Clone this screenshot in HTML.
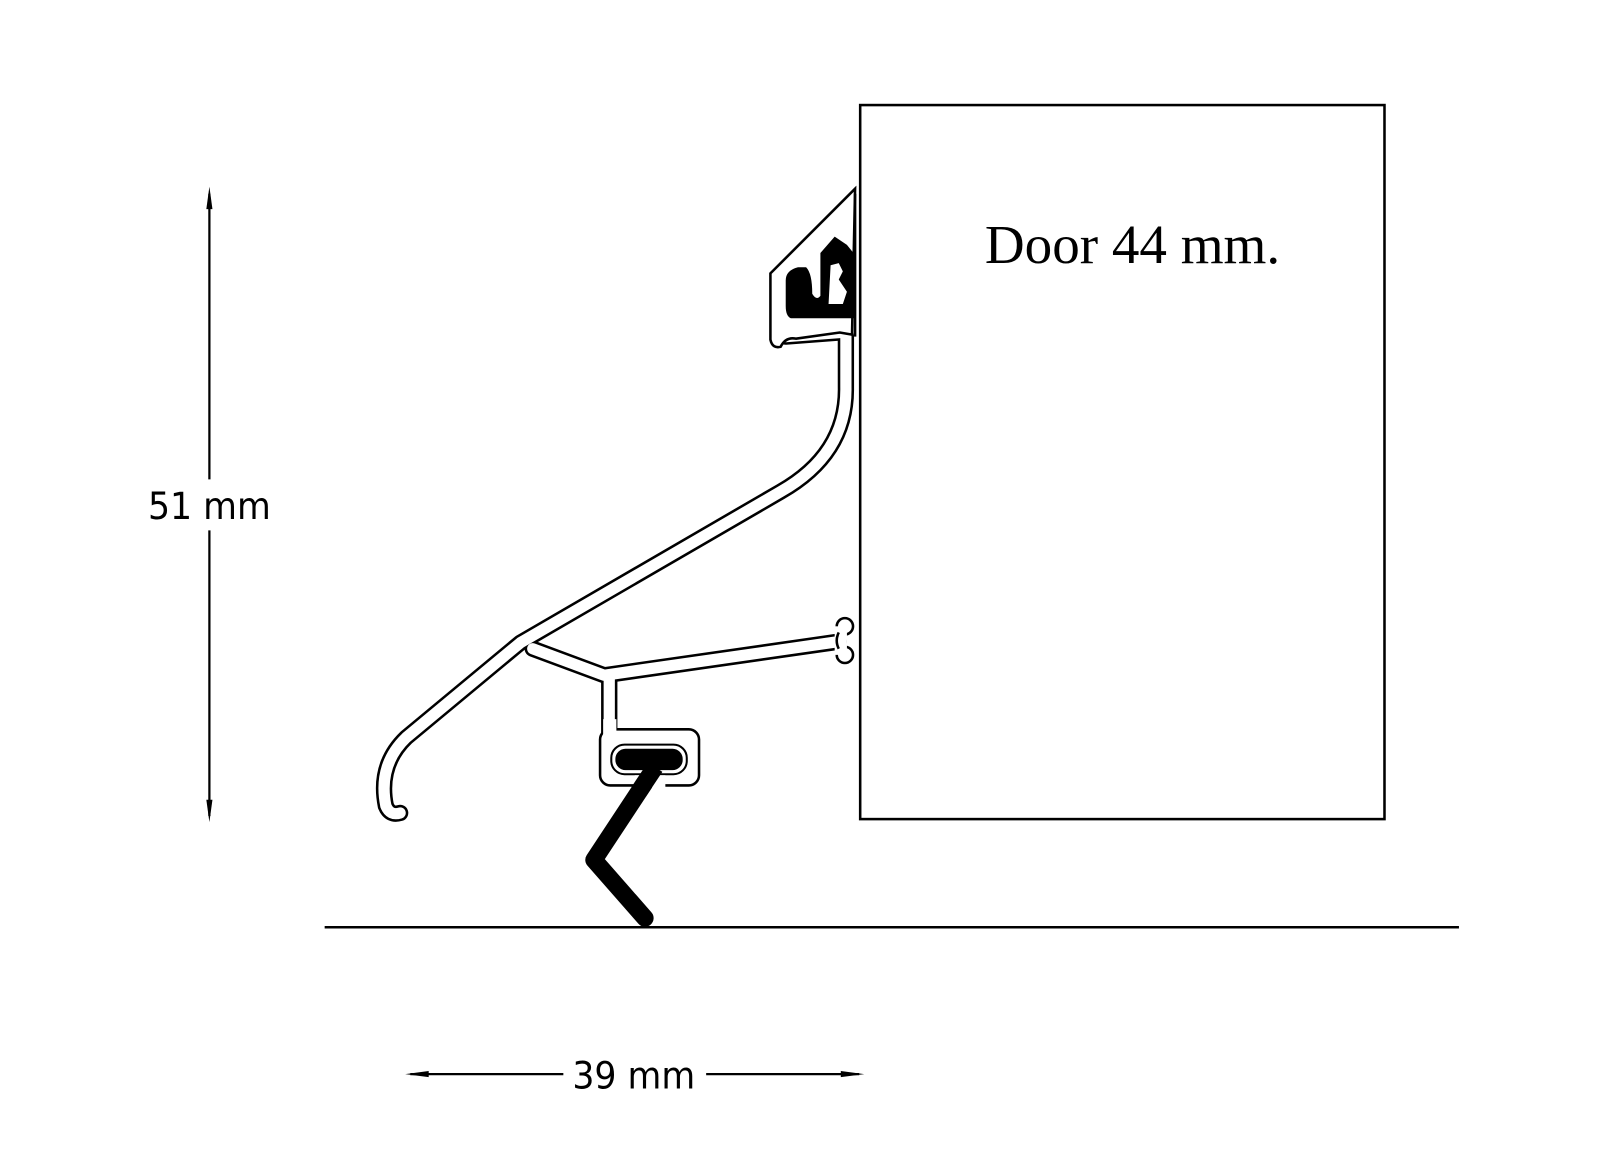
<!DOCTYPE html>
<html><head><meta charset="utf-8"><style>
html,body{margin:0;padding:0;background:#fff;}
svg{display:block;}
</style></head><body>
<svg width="1600" height="1170" viewBox="0 0 1568 1147" xmlns="http://www.w3.org/2000/svg">
<rect x="0" y="0" width="1568" height="1147" fill="#fff"/>
<!-- door -->
<rect x="843" y="103" width="514" height="700" fill="none" stroke="#000" stroke-width="2.5"/>
<text x="1110" y="258" font-family="Liberation Serif, serif" font-size="54" text-anchor="middle">Door 44 mm.</text>
<!-- floor -->
<line x1="318" y1="909" x2="1430" y2="909" stroke="#000" stroke-width="2.5"/>
<!-- vertical dim -->
<line x1="205" y1="190" x2="205" y2="470" stroke="#000" stroke-width="2.2"/>
<line x1="205" y1="520" x2="205" y2="800" stroke="#000" stroke-width="2.2"/>
<polygon points="205,183 202,205 208,205" fill="#000"/>
<polygon points="205,806 202,784 208,784" fill="#000"/>
<text x="205" y="509" font-family="DejaVu Sans, sans-serif" font-size="37" text-anchor="middle" transform="translate(205 0) scale(0.92 1) translate(-205 0)">51 mm</text>
<!-- horizontal dim -->
<line x1="402" y1="1053" x2="552" y2="1053" stroke="#000" stroke-width="2.2"/>
<line x1="692" y1="1053" x2="842" y2="1053" stroke="#000" stroke-width="2.2"/>
<polygon points="397,1053 420,1050 420,1056" fill="#000"/>
<polygon points="847,1053 824,1050 824,1056" fill="#000"/>
<text x="621" y="1067" font-family="DejaVu Sans, sans-serif" font-size="37" text-anchor="middle" transform="translate(621 0) scale(0.92 1) translate(-621 0)">39 mm</text>
<!-- brush -->
<polyline points="642,752 582,843 632,900" fill="none" stroke="#000" stroke-width="17" stroke-linecap="round" stroke-linejoin="round"/>
<!-- profile tubes -->
<g fill="none" stroke-linecap="round" stroke-linejoin="round">
 <g stroke="#000" stroke-width="16">
  <path d="M829,330 L829,380 Q830,445 765,482 L510,630 L398,723 Q370,750 378,790 Q382,800 392,797"/>
  <path d="M522,636 L592,662 L822,629"/>
  <path d="M597,664 L597,760"/>
  <path d="M770,330 L823,326"/>
 </g>
 <g stroke="#fff" stroke-width="11">
  <path d="M829,330 L829,380 Q830,445 765,482 L510,630 L398,723 Q370,750 378,790 Q382,800 392,797"/>
  <path d="M522,636 L592,662 L822,629"/>
  <path d="M597,664 L597,760"/>
  <path d="M770,330 L823,326"/>
 </g>
</g>
<!-- bone end -->
<circle cx="828" cy="614" r="8" fill="#fff" stroke="#000" stroke-width="2.5"/>
<circle cx="828" cy="642" r="8" fill="#fff" stroke="#000" stroke-width="2.5"/>
<rect x="818" y="614" width="12" height="28" fill="#fff"/>
<path d="M822,620 Q818,628 822,636" fill="none" stroke="#000" stroke-width="2.5"/>
<!-- holder box -->
<rect x="588" y="715" width="97" height="55" rx="10" fill="#fff" stroke="#000" stroke-width="2.5"/>
<rect x="591" y="705" width="13" height="16" fill="#fff"/>
<rect x="599" y="730" width="74" height="29" rx="13" fill="#fff" stroke="#000" stroke-width="2"/>
<rect x="603" y="734" width="66" height="21" rx="10" fill="#000"/>
<rect x="622" y="760" width="30" height="12" fill="#fff"/>
<polyline points="642,752 626,776" fill="none" stroke="#000" stroke-width="17"/>
<!-- head -->
<path d="M838,185 L755,268 L755,333 Q757,342 765,340 Q770,330 780,332 L823,326 L835,328 L838,185 Z" fill="#fff" stroke="#000" stroke-width="2.5"/>
<path d="M770,275 Q770,265 782,262 L790,262 Q796,268 796,288 Q800,295 804,290 L804,248 L818,232 L830,240 L838,250 L838,312 L775,312 Q770,310 770,300 Z" fill="#000"/>
<path d="M814,260 L822,258 L826,266 L822,274 L830,286 L826,298 L812,298 Z" fill="#fff"/>
<line x1="838" y1="190" x2="838" y2="330" stroke="#000" stroke-width="2.5"/>
</svg>
</body></html>
